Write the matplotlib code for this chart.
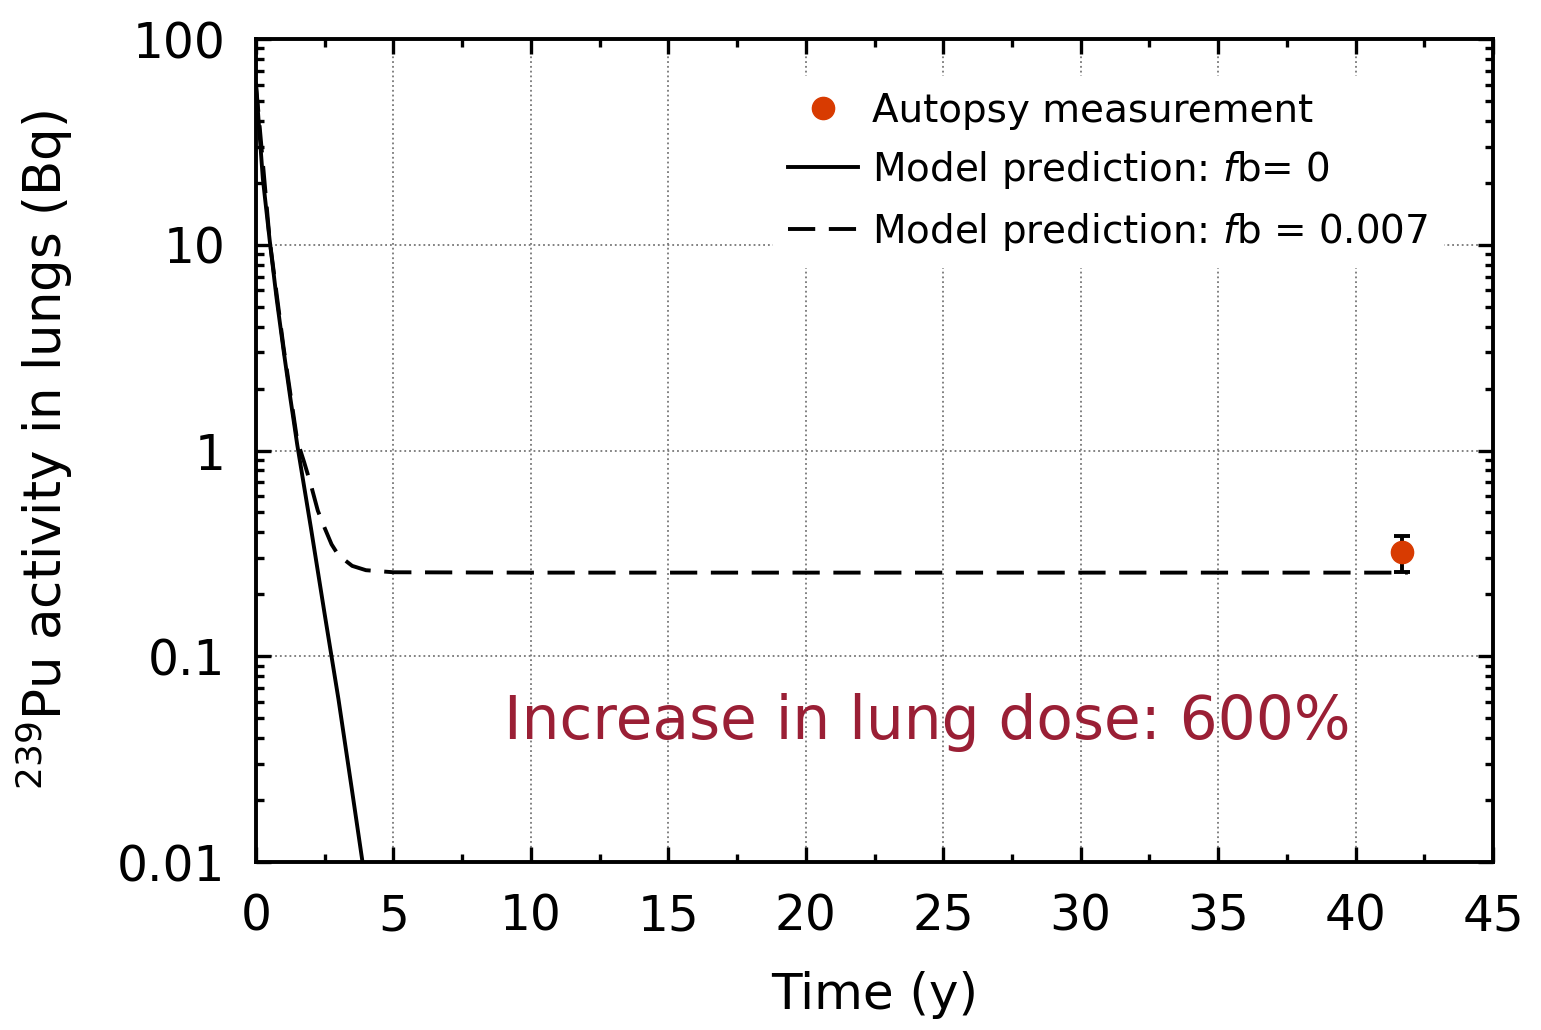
import matplotlib
matplotlib.use("Agg")
import matplotlib.pyplot as plt
from matplotlib.ticker import FixedLocator, FixedFormatter, LogLocator, MultipleLocator, NullFormatter

plt.rcParams['font.family'] = ['DejaVu Sans']
plt.rcParams['mathtext.default'] = 'regular'

# Model prediction, fb = 0 (solid)
t_fb0 = [0.0, 0.25, 0.5, 0.75, 1.0, 1.25, 1.5, 2.0, 2.5, 3.0, 3.5, 3.9]
a_fb0 = [60, 21, 10.5, 5.5, 3.1, 1.8, 1.07, 0.42, 0.16, 0.062, 0.022, 0.0095]

# Model prediction, fb = 0.007 (dashed)
t_fb007 = [0.0, 0.5, 1.0, 1.5, 1.75, 2.0, 2.25, 2.5, 2.75, 3.0, 3.5, 4.0, 5.0, 10.0, 20.0, 30.0, 41.9]
a_fb007 = [60, 10.5, 3.2, 1.12, 0.88, 0.68, 0.51, 0.42, 0.35, 0.31, 0.275, 0.262, 0.256, 0.255, 0.255, 0.255, 0.255]

# Autopsy measurement
t_meas = [41.7]
a_meas = [0.32]
a_err = [0.064]

y_ticks = [0.01, 0.1, 1, 10, 100]
y_labels = ['0.01', '0.1', '1', '10', '100']
x_ticks = [0, 5, 10, 15, 20, 25, 30, 35, 40, 45]

fig = plt.figure(figsize=(15.41, 10.30), dpi=100)
ax = fig.add_axes([0.1661, 0.1631, 0.9689 - 0.1661, 0.9621 - 0.1631])

ax.plot(t_fb0, a_fb0, color='black', lw=2.8, label='Model prediction: $\\it{f}$b= 0', zorder=3)
ax.plot(t_fb007, a_fb007, color='black', lw=2.8, linestyle=(0, (7, 3.5)),
        label='Model prediction: $\\it{f}$b = 0.007', zorder=3)
ax.errorbar(t_meas, a_meas, yerr=a_err, fmt='none',
            ecolor='black', elinewidth=2.8, capsize=6, capthick=2.8, zorder=4)
ax.plot(t_meas, a_meas, 'o', color='#D83B01', ms=16, linestyle='none',
        label='Autopsy measurement', zorder=5)

ax.set_yscale('log')
ax.set_xlim(0, 45)
ax.set_ylim(0.01, 100)

ax.yaxis.set_major_locator(FixedLocator(y_ticks))
ax.yaxis.set_major_formatter(FixedFormatter(y_labels))
ax.yaxis.set_minor_locator(LogLocator(base=10, subs=range(2, 10)))
ax.yaxis.set_minor_formatter(NullFormatter())
ax.xaxis.set_major_locator(FixedLocator(x_ticks))
ax.xaxis.set_minor_locator(MultipleLocator(2.5))

ax.tick_params(which='both', direction='in', top=True, right=True, width=2.4)
ax.tick_params(which='major', length=11, labelsize=35)
ax.tick_params(axis='y', which='major', pad=22)
ax.tick_params(axis='x', which='major', pad=22)
ax.tick_params(which='minor', length=6)
for s in ax.spines.values():
    s.set_linewidth(2.8)

ax.grid(which='major', color='#777777', linestyle=':', linewidth=1.3)

ax.set_xlabel('Time (y)', fontsize=36, labelpad=22)
ax.set_ylabel('$^{239}$Pu activity in lungs (Bq)', fontsize=37, labelpad=30)

handles, labels = ax.get_legend_handles_labels()
order = [2, 0, 1]
leg = ax.legend([handles[i] for i in order], [labels[i] for i in order],
                loc='upper right', bbox_to_anchor=(0.96, 0.955), fontsize=28,
                frameon=True, facecolor='white', edgecolor='none', framealpha=1,
                handlelength=1.8, handletextpad=0.35, labelspacing=0.5,
                borderaxespad=0.0)
leg.set_zorder(6)

ax.text(0.543, 0.170, 'Increase in lung dose: 600%', transform=ax.transAxes,
        ha='center', va='center', fontsize=43, color='#9A1F35', zorder=7)

fig.savefig('out.png', dpi=100)
